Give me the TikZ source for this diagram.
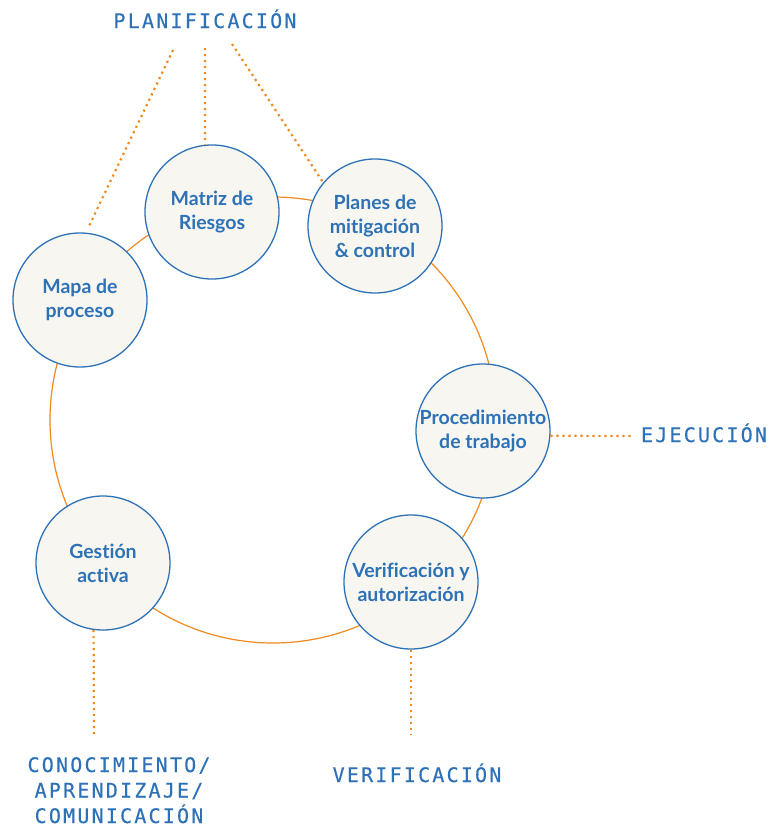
\documentclass[tikz,border=0pt]{standalone}
\usepackage{fontspec}
\setmainfont{Lato}[Ligatures=NoCommon]
\newfontfamily\labelfont[LetterSpace=11,FakeBold=0.3]{DejaVu Sans Mono}
\definecolor{cblue}{HTML}{2D71B6}
\definecolor{cring}{HTML}{EE8A1E}
\definecolor{cfill}{HTML}{F8F6F0}
\begin{document}
\begin{tikzpicture}[x=1pt,y=-1pt,
  stage/.style={circle, minimum size=134pt, inner sep=0pt, draw=cblue,
    line width=1.3pt, fill=cfill, text=cblue, align=center,
    font=\fontsize{19.5}{24}\selectfont\bfseries},
  phase/.style={text=cblue, align=center, anchor=base, inner sep=0pt,
    font=\labelfont\fontsize{20}{25.5}\selectfont},
  dotline/.style={draw=cring, line width=2.2pt, dash pattern=on 2.2pt off 3.8pt}]
\useasboundingbox (0,0) rectangle (771,827);

% the cycle ring behind the stages
\draw[cring, line width=1.2pt] (273,420) circle[radius=223pt];

% stages
\node[stage] (matriz) at (212,212) {Matriz de\\Riesgos};
\node[stage] (planes) at (375,226) {Planes de\\mitigación\\\& control};
\node[stage] (mapa) at (80,300) {Mapa de\\proceso};
\node[stage] (proc) at (483,431) {Procedimiento\\de trabajo};
\node[stage] (verif) at (411,582) {Verificación y\\autorización};
\node[stage] (gestion) at (103,563) {Gestión\\activa};

% phase labels
\node[phase] (plan) at (205,28) {PLANIFICACIÓN};
\node[phase] (ejec) at (704,442) {EJECUCIÓN};
\node[phase] (verlab) at (417,782) {VERIFICACIÓN};
\node[phase] (conoc) at (119,823) {CONOCIMIENTO/\\APRENDIZAJE/\\COMUNICACIÓN};

% free ends of the dotted leaders
\coordinate (pl1) at (173,50);
\coordinate (pl2) at (205,48);
\coordinate (pl3) at (232,44);
\coordinate (ej1) at (631,436);
\coordinate (ve1) at (411,735);
\coordinate (co1) at (94,735);

\draw[dotline, shorten >=7pt] (pl1) -- (mapa.85);
\draw[dotline] (pl2) -- (matriz.96);
\draw[dotline] (pl3) -- (planes.140);
\draw[dotline] (proc.356) -- (ej1);
\draw[dotline] (verif.south) -- (ve1);
\draw[dotline] (gestion.262) -- (co1);
\end{tikzpicture}
\end{document}
